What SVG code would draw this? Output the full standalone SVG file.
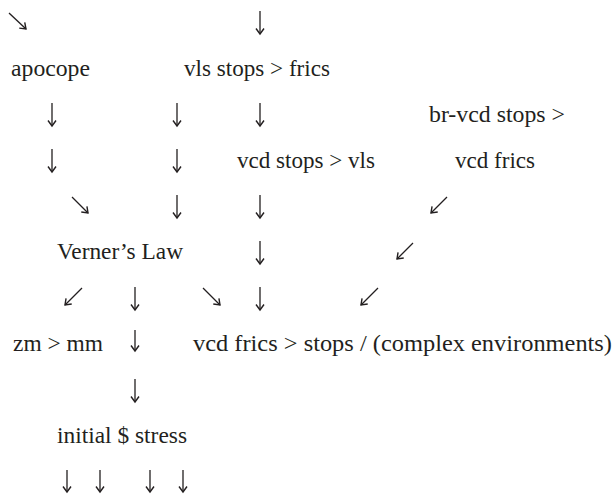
<svg xmlns="http://www.w3.org/2000/svg" width="614" height="495" viewBox="0 0 614 495">
<style>
text{font-family:"Liberation Serif","Times New Roman",serif;font-size:23px;fill:#231f20}
.a{stroke:#231f20;stroke-width:1.3;fill:none;marker-end:url(#h)}
</style>
<defs>
<marker id="h" viewBox="-6 -6 12 12" markerWidth="12" markerHeight="12" refX="0" refY="0" orient="auto" markerUnits="userSpaceOnUse">
<path d="M-5.5,-4 L0,0 L-5.5,4" fill="none" stroke="#231f20" stroke-width="1.4"/>
</marker>
</defs>
<rect width="614" height="495" fill="#fff"/>
<g id="n-apocope"><text x="11" y="76" textLength="79" lengthAdjust="spacingAndGlyphs">apocope</text></g>
<g id="n-vls"><text x="184" y="76" textLength="146" lengthAdjust="spacingAndGlyphs">vls stops &gt; frics</text></g>
<g id="n-brvcd"><text x="429" y="121.5" textLength="136" lengthAdjust="spacingAndGlyphs">br-vcd stops &gt;</text><text x="455" y="167.5" textLength="80" lengthAdjust="spacingAndGlyphs">vcd frics</text></g>
<g id="n-vcdstops"><text x="237" y="167.5" textLength="138" lengthAdjust="spacingAndGlyphs">vcd stops &gt; vls</text></g>
<g id="n-verner"><text x="57" y="259" textLength="126" lengthAdjust="spacingAndGlyphs">Verner’s Law</text></g>
<g id="n-zm"><text x="13" y="351" textLength="90" lengthAdjust="spacingAndGlyphs">zm &gt; mm</text></g>
<g id="n-vcdfrics"><text x="193" y="351" textLength="419" lengthAdjust="spacingAndGlyphs">vcd frics &gt; stops / (complex environments)</text></g>
<g id="n-initial"><text x="57" y="443" textLength="130" lengthAdjust="spacingAndGlyphs">initial $ stress</text></g>
<g id="connectors">
<line class="a" x1="9" y1="13" x2="26" y2="29"/>
<line class="a" x1="260" y1="11" x2="260" y2="34"/>
<line class="a" x1="52" y1="103" x2="52" y2="126"/>
<line class="a" x1="177" y1="103" x2="177" y2="126"/>
<line class="a" x1="260" y1="103" x2="260" y2="126"/>
<line class="a" x1="52" y1="149" x2="52" y2="172"/>
<line class="a" x1="177" y1="149" x2="177" y2="172"/>
<line class="a" x1="72" y1="197" x2="88" y2="213"/>
<line class="a" x1="177" y1="195" x2="177" y2="218"/>
<line class="a" x1="260" y1="195" x2="260" y2="218"/>
<line class="a" x1="447" y1="197" x2="431" y2="213"/>
<line class="a" x1="260" y1="241" x2="260" y2="264"/>
<line class="a" x1="413" y1="243" x2="397" y2="259"/>
<line class="a" x1="82" y1="288" x2="65" y2="305"/>
<line class="a" x1="135" y1="287" x2="135" y2="310"/>
<line class="a" x1="203" y1="288" x2="220" y2="305"/>
<line class="a" x1="260" y1="287" x2="260" y2="310"/>
<line class="a" x1="378" y1="288" x2="361" y2="305"/>
<line class="a" x1="135" y1="330" x2="135" y2="351"/>
<line class="a" x1="135" y1="379" x2="135" y2="402"/>
<line class="a" x1="67" y1="470" x2="67" y2="492"/>
<line class="a" x1="100" y1="470" x2="100" y2="492"/>
<line class="a" x1="150" y1="470" x2="150" y2="492"/>
<line class="a" x1="183" y1="470" x2="183" y2="492"/>
</g>
</svg>
